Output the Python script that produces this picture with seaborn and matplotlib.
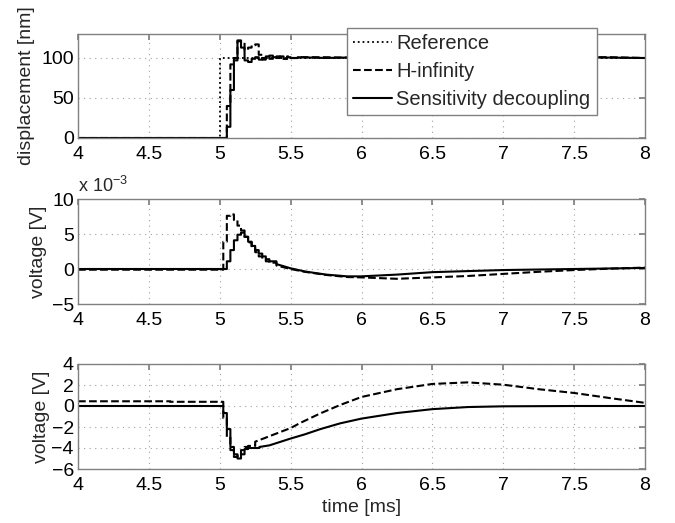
import numpy as np
import pandas as pd
import matplotlib
matplotlib.use("Agg")
import matplotlib.pyplot as plt
import seaborn as sns

# ---------------- data ----------------
# Top panel: displacement [nm]
ref_t = [4.0, 5.0, 8.0]
ref_y = [0, 100, 100]

hinf_disp_step_t = [4.0, 5.05, 5.075, 5.1, 5.125, 5.15, 5.175, 5.2, 5.225, 5.25, 5.275,
                    5.3, 5.325, 5.35, 5.375, 5.4, 5.425, 5.45, 5.475, 5.5]
hinf_disp_step_y = [0, 40, 92, 100, 121, 119, 110, 113, 116, 117, 104,
                    98, 101, 103, 100, 102, 101, 99, 102, 100]
hinf_disp_tail_t = [5.55, 5.75, 6.0, 6.5, 7.0, 7.5, 7.75, 8.0]
hinf_disp_tail_y = [101, 101, 100, 100, 100.5, 101, 101, 100]

sd_disp_step_t = [4.0, 5.05, 5.075, 5.1, 5.125, 5.15, 5.175, 5.2, 5.225, 5.25, 5.275,
                  5.3, 5.325, 5.35, 5.375, 5.4, 5.425, 5.45, 5.475, 5.5]
sd_disp_step_y = [0, 14, 60, 97, 122, 113, 97, 95, 99, 101, 98,
                  100, 102, 99, 101, 100, 102, 99, 101, 100]
sd_disp_tail_t = [5.55, 5.75, 6.0, 6.5, 7.0, 7.5, 7.75, 8.0]
sd_disp_tail_y = [101, 100, 101, 100, 100.5, 101, 100.5, 100]

# Middle panel: voltage [V] x 10^-3
hinf_v1_step_t = [4.0, 5.025, 5.05, 5.075, 5.1, 5.125, 5.15, 5.175, 5.2, 5.225, 5.25,
                  5.275, 5.3, 5.325, 5.35]
hinf_v1_step_y = [-0.1, 3.9, 7.6, 7.8, 7.0, 6.2, 5.5, 4.6, 3.8, 3.0, 2.4,
                  1.8, 1.4, 1.1, 0.9]
hinf_v1_tail_t = [5.4, 5.5, 5.6, 5.75, 5.9, 6.0, 6.25, 6.5, 6.75, 7.0, 7.25, 7.5, 7.75, 8.0]
hinf_v1_tail_y = [0.5, 0.0, -0.4, -0.85, -1.15, -1.2, -1.4, -1.2, -1.0, -0.7, -0.4, -0.15, 0.05, 0.2]

sd_v1_step_t = [4.0, 5.05, 5.075, 5.1, 5.125, 5.15, 5.175, 5.2, 5.225, 5.25, 5.275,
                5.3, 5.325, 5.35]
sd_v1_step_y = [0.0, 1.1, 2.7, 4.1, 4.9, 5.2, 4.6, 3.9, 3.3, 2.7, 2.2,
                1.8, 1.4, 1.1]
sd_v1_tail_t = [5.4, 5.5, 5.6, 5.75, 5.9, 6.0, 6.25, 6.5, 6.75, 7.0, 7.5, 8.0]
sd_v1_tail_y = [0.7, 0.1, -0.35, -0.8, -1.05, -1.05, -0.8, -0.45, -0.3, -0.15, 0.0, 0.15]

# Bottom panel: voltage [V]
hinf_v2_step_t = [4.0, 4.65, 5.025, 5.05, 5.075, 5.1, 5.125, 5.15, 5.175, 5.2]
hinf_v2_step_y = [0.45, 0.4, -1.15, -3.0, -4.2, -4.85, -4.7, -4.2, -3.9, -3.8]
hinf_v2_tail_t = [5.25, 5.5, 5.57, 5.71, 5.85, 6.0, 6.25, 6.5, 6.75, 7.0, 7.25, 7.5, 7.75, 8.0]
hinf_v2_tail_y = [-3.4, -2.1, -1.6, -0.7, 0.1, 0.86, 1.6, 2.1, 2.25, 2.03, 1.6, 1.24, 0.76, 0.3]

sd_v2_step_t = [4.0, 5.025, 5.05, 5.075, 5.1, 5.125, 5.15, 5.175, 5.2]
sd_v2_step_y = [0.0, -0.67, -2.2, -3.9, -4.6, -5.0, -4.6, -4.1, -4.0]
sd_v2_tail_t = [5.28, 5.35, 5.5, 5.6, 5.71, 5.85, 6.0, 6.25, 6.5, 6.75, 7.0, 7.5, 8.0]
sd_v2_tail_y = [-3.9, -3.75, -3.1, -2.7, -2.2, -1.65, -1.2, -0.67, -0.3, -0.1, -0.03, 0.0, 0.0]

x_ticks = [4, 4.5, 5, 5.5, 6, 6.5, 7, 7.5, 8]
x_tick_labels = ["4", "4.5", "5", "5.5", "6", "6.5", "7", "7.5", "8"]
labels = ["Reference", "H-infinity", "Sensitivity decoupling"]


def path(step_t, step_y, tail_t=None, tail_y=None):
    """Zero-order-hold samples followed by a smooth tail."""
    ts, ys = [], []
    nxt = list(step_t[1:]) + ([tail_t[0]] if tail_t else [step_t[-1]])
    for t0, t1, y in zip(step_t, nxt, step_y):
        ts += [t0, t1]
        ys += [y, y]
    if tail_t:
        ts += list(tail_t)
        ys += list(tail_y)
    return pd.DataFrame({"t": ts, "y": ys})


# ---------------- style ----------------
sns.set_theme(style="white")
plt.rcParams["font.family"] = ["Liberation Sans", "DejaVu Sans"]
plt.rcParams["mathtext.fontset"] = "custom"
plt.rcParams["mathtext.rm"] = "Liberation Sans"
plt.rcParams["mathtext.it"] = "Liberation Sans"
plt.rcParams["mathtext.default"] = "regular"

FS = 14
fig = plt.figure(figsize=(6.75, 5.23), dpi=100)
L, W = 78 / 675, 567 / 675
ax1 = fig.add_axes([L, 1 - 138 / 523, W, 104 / 523])
ax2 = fig.add_axes([L, 1 - 304 / 523, W, 105 / 523])
ax3 = fig.add_axes([L, 1 - 469 / 523, W, 105 / 523])

grid_kw = dict(color="#a0a0a0", linestyle=(0, (1, 4)), linewidth=0.8)
for ax in (ax1, ax2, ax3):
    for s in ax.spines.values():
        s.set_color("#808080")
        s.set_linewidth(1.0)
    ax.set_xlim(4, 8)
    ax.set_xticks(x_ticks)
    ax.set_xticklabels(x_tick_labels)
    ax.tick_params(direction="in", length=4, color="#808080", labelsize=FS,
                   top=True, right=True, labelcolor="black", pad=3)
    ax.tick_params(axis="x", pad=6)
    ax.grid(True, **grid_kw)
    ax.set_axisbelow(True)

lw = 1.5
# top
sns.lineplot(data=path(ref_t[:-1], ref_y[:-1], [ref_t[-1]], [ref_y[-1]]), x="t", y="y",
             ax=ax1, color="black", linestyle=":", linewidth=1.3, sort=False,
             estimator=None, label=labels[0])
sns.lineplot(data=path(hinf_disp_step_t, hinf_disp_step_y, hinf_disp_tail_t, hinf_disp_tail_y),
             x="t", y="y", ax=ax1, color="black", linestyle="--", linewidth=lw,
             sort=False, estimator=None, label=labels[1])
sns.lineplot(data=path(sd_disp_step_t, sd_disp_step_y, sd_disp_tail_t, sd_disp_tail_y),
             x="t", y="y", ax=ax1, color="black", linestyle="-", linewidth=lw,
             sort=False, estimator=None, label=labels[2])
ax1.set_ylim(0, 130)
ax1.set_yticks([0, 50, 100])
ax1.set_ylabel("displacement [nm]", fontsize=FS)
ax1.set_xlabel("")

# middle
sns.lineplot(data=path(hinf_v1_step_t, hinf_v1_step_y, hinf_v1_tail_t, hinf_v1_tail_y),
             x="t", y="y", ax=ax2, color="black", linestyle="--", linewidth=lw,
             sort=False, estimator=None)
sns.lineplot(data=path(sd_v1_step_t, sd_v1_step_y, sd_v1_tail_t, sd_v1_tail_y),
             x="t", y="y", ax=ax2, color="black", linestyle="-", linewidth=lw,
             sort=False, estimator=None)
ax2.set_ylim(-5, 10)
ax2.set_yticks([-5, 0, 5, 10])
ax2.set_ylabel("voltage [V]", fontsize=FS)
ax2.set_xlabel("")
ax2.text(0.0, 1.03, r"x 10$^{-3}$", transform=ax2.transAxes, ha="left", va="bottom",
         fontsize=13)

# bottom
sns.lineplot(data=path(hinf_v2_step_t, hinf_v2_step_y, hinf_v2_tail_t, hinf_v2_tail_y),
             x="t", y="y", ax=ax3, color="black", linestyle="--", linewidth=lw,
             sort=False, estimator=None)
sns.lineplot(data=path(sd_v2_step_t, sd_v2_step_y, sd_v2_tail_t, sd_v2_tail_y),
             x="t", y="y", ax=ax3, color="black", linestyle="-", linewidth=lw,
             sort=False, estimator=None)
ax3.set_ylim(-6, 4)
ax3.set_yticks([-6, -4, -2, 0, 2, 4])
ax3.set_ylabel("voltage [V]", fontsize=FS)
ax3.set_xlabel("time [ms]", fontsize=FS, labelpad=3)

ax1.yaxis.set_label_coords(-0.076, 0.5)
ax2.yaxis.set_label_coords(-0.055, 0.5)
ax3.yaxis.set_label_coords(-0.049, 0.5)

leg = ax1.legend(loc="upper left", bbox_to_anchor=(347 / 675, 1 - 28 / 523),
                 bbox_transform=fig.transFigure, borderaxespad=0, fontsize=14.5,
                 frameon=True, fancybox=False, framealpha=1, edgecolor="#808080",
                 handlelength=1.95, handletextpad=0.2, labelspacing=0.45,
                 borderpad=0.3)
leg.get_frame().set_linewidth(1.0)
leg.set_zorder(10)

fig.savefig("out.png", dpi=100)
